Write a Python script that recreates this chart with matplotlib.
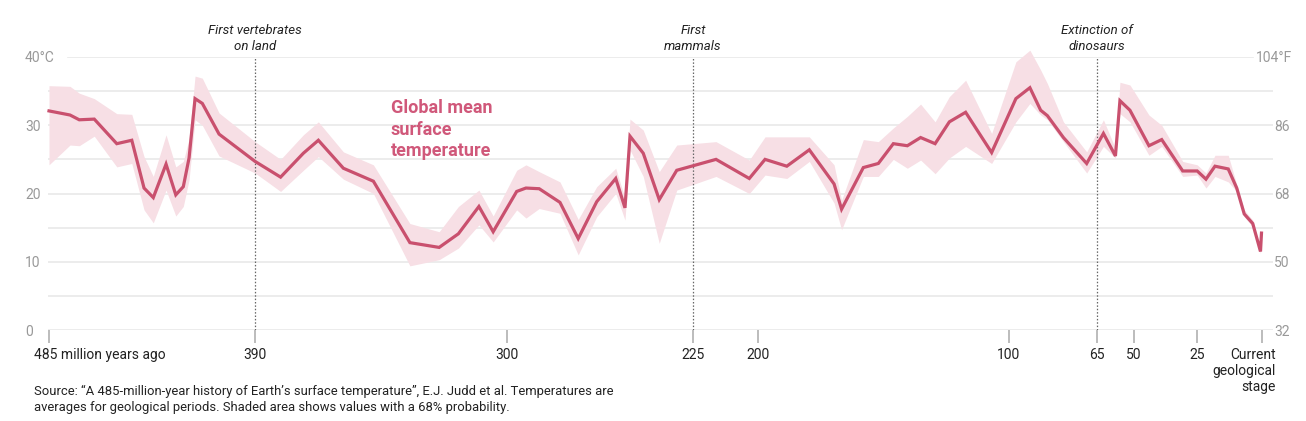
import matplotlib
matplotlib.use("Agg")
import matplotlib.pyplot as plt
import matplotlib.transforms as mtransforms

plt.rcParams['font.family'] = ['Roboto', 'DejaVu Sans']

# millions of years ago
age = [485, 476.6, 472.9, 466.9, 457.9, 451.9, 447.0, 443.3, 438.2, 434.3,
       431.3, 429.0, 426.6, 423.7, 417.0, 402.6, 392.4, 383.3, 377.3, 367.3,
       355.3, 340.7, 329.0, 321.3, 313.1, 307.4, 298.0, 294.3, 289.0, 280.7,
       273.4, 266.0, 258.4, 254.7, 252.7, 247.4, 241.0, 234.0, 218.3, 205.0,
       198.7, 190.0, 181.0, 171.1, 168.1, 159.4, 153.4, 147.4, 141.8, 136.5,
       130.7, 125.0, 118.5, 108.1, 98.4, 92.8, 88.5, 85.8, 79.4, 70.1,
       63.4, 58.6, 56.8, 52.8, 45.2, 40.1, 31.7, 25.9, 22.4, 18.8,
       13.5, 10.1, 7.1, 3.7, 0.6, 0.2]
temp = [32.1, 31.5, 30.8, 30.9, 27.3, 27.8, 20.8, 19.4, 24.3, 19.8,
        21.0, 25.2, 33.9, 33.2, 28.7, 24.7, 22.4, 25.9, 27.8, 23.7,
        21.8, 12.8, 12.1, 14.1, 18.1, 14.4, 20.3, 20.8, 20.7, 18.7,
        13.4, 18.8, 22.2, 17.9, 28.4, 25.9, 19.1, 23.4, 25.0, 22.2,
        25.0, 24.0, 26.4, 21.4, 17.7, 23.8, 24.4, 27.3, 27.0, 28.2,
        27.3, 30.5, 31.9, 26.0, 33.9, 35.5, 32.2, 31.4, 28.2, 24.4,
        28.8, 25.5, 33.6, 32.2, 27.0, 27.9, 23.3, 23.3, 22.1, 24.0,
        23.6, 20.8, 17.0, 15.6, 11.5, 14.2]
temp_hi = [35.8, 35.7, 34.7, 33.9, 31.7, 31.6, 25.4, 22.5, 28.6, 23.9,
           24.7, 28.0, 37.2, 36.9, 31.8, 27.6, 25.0, 28.6, 30.5, 26.1,
           24.2, 15.6, 14.4, 18.1, 20.5, 16.7, 23.4, 24.2, 23.2, 21.7,
           16.2, 21.0, 23.7, 19.3, 30.9, 29.3, 23.2, 27.1, 27.6, 24.9,
           28.3, 28.3, 28.3, 24.2, 19.0, 27.9, 27.6, 29.6, 31.3, 33.1,
           30.5, 34.2, 36.6, 28.8, 39.3, 41.0, 38.1, 36.1, 30.5, 26.1,
           30.8, 26.6, 36.3, 35.9, 31.5, 30.0, 24.7, 24.2, 23.0, 25.6,
           25.6, 21.3, 17.6, 16.1, 11.8, 14.5]
temp_lo = [24.2, 27.1, 27.0, 28.4, 23.9, 24.4, 17.6, 15.7, 20.5, 16.7,
           18.1, 22.0, 30.8, 30.0, 25.5, 23.0, 20.3, 23.4, 25.4, 22.1,
           20.0, 9.4, 10.3, 12.0, 15.4, 12.9, 17.6, 16.4, 17.8, 17.1,
           11.0, 16.6, 20.0, 16.1, 26.4, 22.5, 12.7, 20.5, 22.5, 20.0,
           22.7, 22.2, 24.7, 18.6, 14.7, 22.5, 22.5, 25.0, 23.7, 24.9,
           22.9, 25.2, 26.9, 24.4, 30.5, 33.2, 31.5, 30.8, 27.6, 23.0,
           26.9, 25.2, 31.7, 30.5, 25.6, 26.9, 22.5, 22.7, 20.8, 22.5,
           21.7, 20.3, 16.6, 15.1, 11.2, 13.9]

tick_pos = [485, 402.6, 301.9, 227.5, 201.5, 101.2, 66, 51.2, 26, 0]
tick_labels = ['485 million years ago', '390', '300', '225', '200', '100',
               '65', '50', '25', 'Current\ngeological\nstage']
c_ticks = [0, 10, 20, 30, 40]
c_labels = ['0', '10', '20', '30', '40°C']
f_labels = ['32', '50', '68', '86', '104°F']
events = [(402.6, 'First vertebrates\non land'),
          (227.5, 'First\nmammals'),
          (66, 'Extinction of\ndinosaurs')]

W, H = 1306, 421
fig = plt.figure(figsize=(W / 100, H / 100), dpi=100)
ax = fig.add_axes([48 / W, (H - 330) / H, (1273 - 48) / W, (330 - 57) / H])
ax.set_xlim(485.4, -4.4)
ax.set_ylim(0, 40)
for s in ax.spines.values():
    s.set_visible(False)

grid_c = '#e9e9e9'
for v in range(0, 40, 5):
    ax.axhline(v, color=grid_c, lw=1.2, zorder=0)
ax.axhline(40, xmin=20 / 1225, xmax=1205 / 1225, color=grid_c, lw=1.2, zorder=0)

ax.fill_between(age, temp_lo, temp_hi, color='#f7dfe5', lw=0, clip_on=False, zorder=1)
ax.plot(age, temp, color='#c9506e', lw=2.3, clip_on=False, zorder=3,
        solid_joinstyle='miter')

for pos, txt in events:
    ax.axvline(pos, color='#666666', lw=0.9, ls=(0, (1.2, 1.5)), zorder=2)
    ax.text(pos, 40.6, txt, ha='center', va='bottom', fontsize=9.5,
            style='italic', color='#222222', linespacing=1.25, clip_on=False)

ax.text(348.3, 33.8, 'Global mean\nsurface\ntemperature', fontsize=13,
        fontweight='bold', color='#d0587a', ha='left', va='top', linespacing=1.25)

ax.set_xticks(tick_pos, tick_labels)
ax.tick_params(axis='x', length=9.5, width=1.1, color='#aaaaaa', pad=3.5,
               labelsize=10, labelcolor='#222222')
xl = ax.get_xticklabels()
xl[0].set_horizontalalignment('left')
xl[0].set_transform(xl[0].get_transform() +
                    mtransforms.ScaledTranslation(-15 / 100, 0, fig.dpi_scale_trans))
xl[-1].set_horizontalalignment('right')
xl[-1].set_multialignment('right')
xl[-1].set_transform(xl[-1].get_transform() +
                     mtransforms.ScaledTranslation(14 / 100, 0, fig.dpi_scale_trans))

ax.set_yticks(c_ticks, c_labels)
ax.tick_params(axis='y', length=0, pad=16.5, labelsize=10, labelcolor='#999999')
for lab in ax.get_yticklabels():
    lab.set_horizontalalignment('left')

ax2 = ax.twinx()
ax2.set_ylim(0, 40)
for s in ax2.spines.values():
    s.set_visible(False)
ax2.set_yticks(c_ticks, f_labels)
ax2.tick_params(axis='y', length=0, pad=0.7, labelsize=10, labelcolor='#999999')
rl = ax2.get_yticklabels()
rl[-1].set_transform(rl[-1].get_transform() +
                     mtransforms.ScaledTranslation(-18 / 100, 0, fig.dpi_scale_trans))

fig.text(34 / W, 1 - 385 / H,
         'Source: “A 485-million-year history of Earth’s surface temperature”, '
         'E.J. Judd et al. Temperatures are\naverages for geological periods. '
         'Shaded area shows values with a 68% probability.',
         fontsize=9.4, color='#222222', ha='left', va='top', linespacing=1.25)

fig.savefig('out.png', dpi=100)
